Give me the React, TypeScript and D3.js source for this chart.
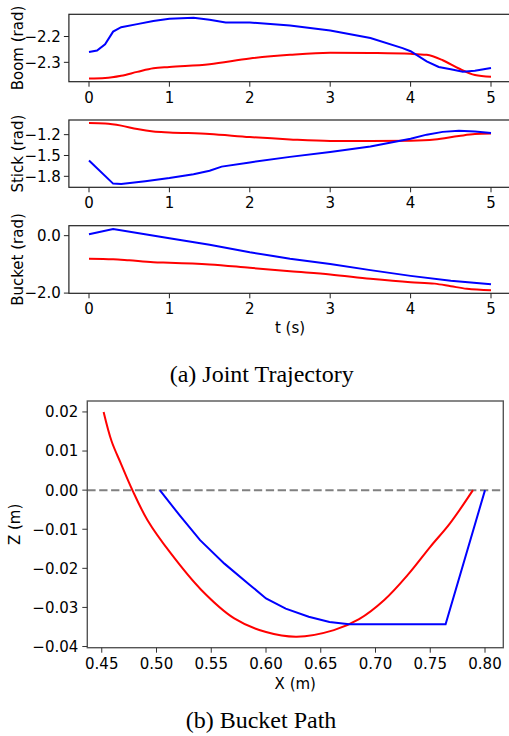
import React from "react";
import * as d3 from "d3";

// joint trajectories: [t, rad]  (blue = reference, red = optimised)
const boomBlue: [number, number][] = [
  [0, -2.26], [0.1, -2.254], [0.2, -2.23], [0.3, -2.181], [0.4, -2.164], [0.6, -2.152],
  [0.8, -2.14], [1.0, -2.131], [1.3, -2.127], [1.5, -2.135], [1.7, -2.146], [2.0, -2.146],
  [2.5, -2.157], [3.0, -2.177], [3.5, -2.206], [3.9, -2.245], [4.0, -2.257], [4.2, -2.296],
  [4.35, -2.318], [4.5, -2.327], [4.65, -2.336], [4.8, -2.333], [5.0, -2.322],
];
const boomRed: [number, number][] = [
  [0, -2.363], [0.2, -2.361], [0.4, -2.352], [0.6, -2.337], [0.8, -2.323], [1.0, -2.318],
  [1.5, -2.307], [2.0, -2.285], [2.5, -2.271], [3.0, -2.263], [3.5, -2.264], [4.0, -2.267],
  [4.2, -2.271], [4.4, -2.292], [4.6, -2.324], [4.8, -2.349], [5.0, -2.356],
];
const stickBlue: [number, number][] = [
  [0, -1.571], [0.3, -1.905], [0.4, -1.912], [0.7, -1.87], [1.0, -1.825], [1.3, -1.77],
  [1.5, -1.72], [1.65, -1.66], [2.0, -1.6], [2.5, -1.52], [3.0, -1.45], [3.5, -1.37],
  [4.0, -1.26], [4.2, -1.2], [4.4, -1.16], [4.6, -1.145], [4.8, -1.155], [5.0, -1.176],
];
const stickRed: [number, number][] = [
  [0, -1.033], [0.2, -1.04], [0.4, -1.07], [0.6, -1.12], [0.8, -1.155], [1.0, -1.168],
  [1.5, -1.19], [2.0, -1.235], [2.5, -1.268], [3.0, -1.29], [3.5, -1.292], [4.0, -1.287],
  [4.3, -1.27], [4.6, -1.22], [4.8, -1.192], [5.0, -1.185],
];
const bucketBlue: [number, number][] = [
  [0, 0.047], [0.3, 0.232], [1.0, -0.09], [1.5, -0.32], [2.0, -0.577], [2.5, -0.8],
  [3.0, -0.99], [3.5, -1.2], [4.0, -1.4], [4.5, -1.57], [5.0, -1.69],
];
const bucketRed: [number, number][] = [
  [0, -0.8], [0.3, -0.82], [0.5, -0.86], [0.8, -0.925], [1.0, -0.94], [1.5, -1.0],
  [2.0, -1.12], [2.5, -1.24], [3.0, -1.35], [3.5, -1.5], [4.0, -1.62], [4.3, -1.67],
  [4.5, -1.76], [4.7, -1.85], [5.0, -1.9],
];
const tTicks = [0, 1, 2, 3, 4, 5];
const boomTicks = [-2.2, -2.3];
const stickTicks = [-1.2, -1.5, -1.8];
const bucketTicks = [0.0, -2.0];

// bucket path: [X, Z] in metres
const pathBlue: [number, number][] = [
  [0.503, 0.0], [0.521, -0.0064], [0.5398, -0.0128], [0.562, -0.0188], [0.5855, -0.0243],
  [0.6, -0.0277], [0.618, -0.0303], [0.639, -0.0324], [0.658, -0.0337], [0.676, -0.0343],
  [0.764, -0.0343], [0.8, 0.0],
];
const pathRed: [number, number][] = [
  [0.4517, 0.02], [0.459, 0.0125], [0.4675, 0.0068], [0.478, 0.0], [0.4918, -0.0077],
  [0.5131, -0.0162], [0.5405, -0.0254], [0.571, -0.0328], [0.6, -0.0363], [0.628, -0.0375],
  [0.662, -0.0358], [0.685, -0.033], [0.708, -0.0281], [0.73, -0.0215], [0.75, -0.0145],
  [0.768, -0.0085], [0.789, 0.0],
];
const xTicks = [0.45, 0.5, 0.55, 0.6, 0.65, 0.7, 0.75, 0.8];
const zTicks = [0.02, 0.01, 0.0, -0.01, -0.02, -0.03, -0.04];

const SANS = "DejaVu Sans";
const SERIF = "Liberation Serif";

type PanelProps = {
  top: number;
  bottom: number;
  label: string;
  yDomain: [number, number];
  yTicks: number[];
  yFmt: (v: number) => string;
  blue: [number, number][];
  red: [number, number][];
};

const tScale = d3.scaleLinear().domain([-0.25, 5.25]).range([68.9, 511.1]);

function JointPanel({ top, bottom, label, yDomain, yTicks, yFmt, blue, red }: PanelProps) {
  const y = d3.scaleLinear().domain(yDomain).range([bottom, top]);
  const [x0, x1] = tScale.range();
  const lineLin = d3.line<[number, number]>().x((d) => tScale(d[0])).y((d) => y(d[1]));
  const lineSmooth = d3
    .line<[number, number]>()
    .x((d) => tScale(d[0]))
    .y((d) => y(d[1]))
    .curve(d3.curveMonotoneX);
  return (
    <g>
      <path d={lineSmooth(red) || ""} fill="none" stroke="#ff0000" strokeWidth={2} />
      <path d={lineLin(blue) || ""} fill="none" stroke="#0000ff" strokeWidth={2} />
      <rect x={x0} y={top} width={x1 - x0} height={bottom - top} fill="none" stroke="#222" strokeWidth={1.2} />
      {tTicks.map((t) => (
        <g key={t}>
          <line x1={tScale(t)} x2={tScale(t)} y1={bottom} y2={bottom + 5} stroke="#222" strokeWidth={1} />
          <text x={tScale(t)} y={bottom + 21} textAnchor="middle" fontSize={15} fontFamily={SANS}>
            {t}
          </text>
        </g>
      ))}
      {yTicks.map((v) => (
        <g key={v}>
          <line x1={x0 - 5} x2={x0} y1={y(v)} y2={y(v)} stroke="#222" strokeWidth={1} />
          <text x={x0 - 8} y={y(v) + 5.4} textAnchor="end" fontSize={15} fontFamily={SANS}>
            {yFmt(v)}
          </text>
        </g>
      ))}
      <text
        transform={`translate(22.5,${(top + bottom) / 2}) rotate(-90)`}
        textAnchor="middle"
        fontSize={15}
        fontFamily={SANS}
      >
        {label}
      </text>
    </g>
  );
}

function BucketPath() {
  const left = 87.3, right = 503.3, top = 401, bottom = 647.7;
  const x = d3.scaleLinear().domain([0.4368, 0.8167]).range([left, right]);
  const y = d3.scaleLinear().domain([-0.0403, 0.0228]).range([bottom, top]);
  const line = d3.line<[number, number]>().x((d) => x(d[0])).y((d) => y(d[1]));
  const smooth = d3
    .line<[number, number]>()
    .x((d) => x(d[0]))
    .y((d) => y(d[1]))
    .curve(d3.curveCatmullRom);
  const fmtX = d3.format(".2f");
  const fmtZ = (v: number) => d3.format(".2f")(v).replace("-", "\u2212");
  return (
    <g>
      <line x1={left} x2={right} y1={y(0)} y2={y(0)} stroke="#808080" strokeWidth={2} strokeDasharray="8.3,3.6" />
      <path d={smooth(pathRed) || ""} fill="none" stroke="#ff0000" strokeWidth={2} />
      <path d={line(pathBlue) || ""} fill="none" stroke="#0000ff" strokeWidth={2} />
      <rect x={left} y={top} width={right - left} height={bottom - top} fill="none" stroke="#555" strokeWidth={1.4} />
      {xTicks.map((v) => (
        <g key={v}>
          <line x1={x(v)} x2={x(v)} y1={bottom} y2={bottom + 5} stroke="#333" strokeWidth={1} />
          <text x={x(v)} y={bottom + 21} textAnchor="middle" fontSize={15} fontFamily={SANS}>
            {fmtX(v)}
          </text>
        </g>
      ))}
      {zTicks.map((v) => (
        <g key={v}>
          <line x1={left - 5} x2={left} y1={y(v)} y2={y(v)} stroke="#333" strokeWidth={1} />
          <text x={left - 9} y={y(v) + 5.4} textAnchor="end" fontSize={15} fontFamily={SANS}>
            {fmtZ(v)}
          </text>
        </g>
      ))}
      <text x={(left + right) / 2} y={689} textAnchor="middle" fontSize={15} fontFamily={SANS}>
        X (m)
      </text>
      <text
        transform={`translate(20,${(top + bottom) / 2}) rotate(-90)`}
        textAnchor="middle"
        fontSize={15}
        fontFamily={SANS}
      >
        Z (m)
      </text>
    </g>
  );
}

export default function App() {
  const f1 = d3.format(".1f");
  return (
    <svg
      width={509}
      height={736}
      style={{ position: "absolute", left: 0, top: 0, background: "#fff" }}
    >
      <JointPanel
        top={14.3}
        bottom={81.7}
        label="Boom (rad)"
        yDomain={[-2.375, -2.114]}
        yTicks={boomTicks}
        yFmt={f1}
        blue={boomBlue}
        red={boomRed}
      />
      <JointPanel
        top={120}
        bottom={187.3}
        label="Stick (rad)"
        yDomain={[-1.958, -0.989]}
        yTicks={stickTicks}
        yFmt={f1}
        blue={stickBlue}
        red={stickRed}
      />
      <JointPanel
        top={225.7}
        bottom={293.3}
        label="Bucket (rad)"
        yDomain={[-2.007, 0.347]}
        yTicks={bucketTicks}
        yFmt={f1}
        blue={bucketBlue}
        red={bucketRed}
      />
      <text x={tScale(2.5)} y={333} textAnchor="middle" fontSize={15} fontFamily={SANS}>
        t (s)
      </text>
      <text x={261.7} y={381.5} textAnchor="middle" fontSize={24} fontFamily={SERIF}>
        (a) Joint Trajectory
      </text>
      <BucketPath />
      <text x={261} y={727.5} textAnchor="middle" fontSize={24} fontFamily={SERIF}>
        (b) Bucket Path
      </text>
    </svg>
  );
}
